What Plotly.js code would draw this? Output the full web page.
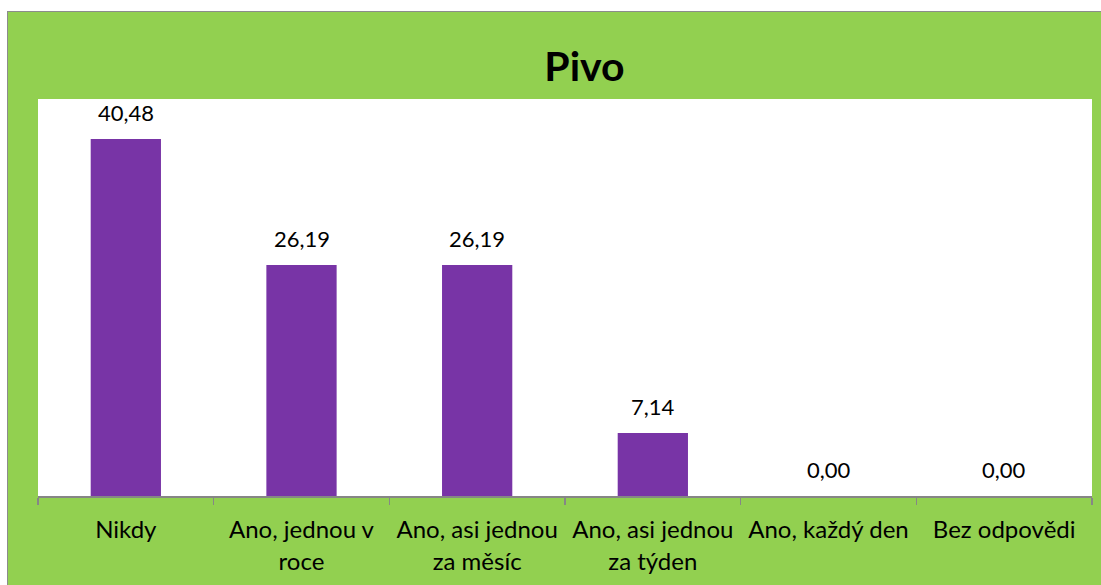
<!DOCTYPE html>
<html>
<head>
<meta charset="utf-8">
<script src="https://cdn.plot.ly/plotly-3.0.1.min.js"></script>
<style>
  html, body { margin: 0; padding: 0; background: #ffffff; width: 1101px; height: 585px; overflow: hidden; }
  #chart { position: absolute; left: 7px; top: 11px; width: 1094px; height: 574px;
           border-left: 1px solid #8c8c8c; border-top: 1px solid #8c8c8c; }
</style>
</head>
<body>
<div id="chart"></div>
<script>
const categories = [
  "Nikdy",
  "Ano, jednou v<br>roce",
  "Ano, asi jednou<br>za měsíc",
  "Ano, asi jednou<br>za týden",
  "Ano, každý den",
  "Bez odpovědi"
];
const values = [40.48, 26.19, 26.19, 7.14, 0.00, 0.00];
const chartTitle = "Pivo";

const FONT = "Lato, 'Open Sans', sans-serif";

const trace = {
  type: "bar",
  x: categories,
  y: values,
  marker: { color: "#7834A6", line: { width: 0 } },
  hoverinfo: "skip"
};

const annotations = categories.map((c, i) => ({
  x: c, y: values[i], xref: "x", yref: "y",
  text: values[i].toFixed(2).replace(".", ","),
  showarrow: false, yanchor: "bottom", yshift: 11,
  font: { family: FONT, size: 22, color: "#000000" }
}));

const layout = {
  width: 1094, height: 574,
  margin: { l: 30, r: 10, t: 87, b: 90, pad: 0 },
  paper_bgcolor: "#92D050",
  plot_bgcolor: "#FFFFFF",
  separators: ", ",
  showlegend: false,
  bargap: 0.6,
  title: {
    text: "<b>" + chartTitle + "</b>",
    font: { family: FONT, size: 41, color: "#000000" },
    xref: "paper", x: 0.5185, xanchor: "center",
    yref: "container", y: 0.905, yanchor: "middle"
  },
  xaxis: {
    type: "category",
    showline: true, linecolor: "#868686", linewidth: 1.5,
    ticks: "outside", tickson: "boundaries", ticklen: 7, tickcolor: "#868686", tickwidth: 1.5,
    ticklabelstandoff: 12,
    tickfont: { family: FONT, size: 24, color: "#000000" },
    showgrid: false, zeroline: false, fixedrange: true
  },
  yaxis: {
    range: [0, 45], visible: false, showgrid: false, zeroline: false, fixedrange: true
  },
  annotations: annotations
};

Plotly.newPlot("chart", [trace], layout, { displayModeBar: false, staticPlot: true });
</script>
</body>
</html>
